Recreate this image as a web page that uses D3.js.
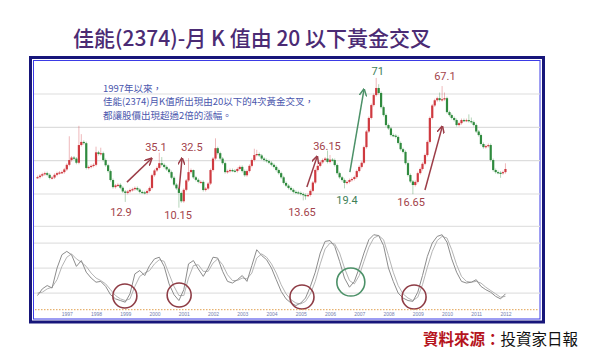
<!DOCTYPE html>
<html>
<head>
<meta charset="utf-8">
<script src="https://cdn.jsdelivr.net/npm/d3@7"></script>
<style>
  body { margin: 0; background: #fff; }
</style>
</head>
<body>
<div id="chart"></div>
<script>
// monthly closes, Jan 1996 .. Jan 2012 (one row per year)
const firstOpen = 24;
const monthlyClose = [
  24.1, 24.8, 25.5, 26, 25.2, 23.7, 23.9, 25.2, 26, 26.3, 26.5, 27.8,
  30, 32.3, 33.5, 33, 31, 39.5, 41, 40.4, 28.5, 29, 29.5, 30,
  36, 35.2, 35.6, 32.3, 29.8, 27, 22.7, 19.3, 20.1, 20.4, 19, 17.2,
  16.5, 17.2, 17.9, 18.3, 18.9, 18.1, 17, 16.8, 16.5, 17.4, 18.9, 25,
  27.3, 28.5, 30.8, 30, 29, 27.8, 26.5, 23.8, 20.5, 18.7, 16.5, 12.5,
  18, 22.5, 26.5, 27.5, 24, 22.8, 21.8, 21.8, 17.9, 18.6, 21, 27.5,
  33, 38, 35.6, 33, 30.8, 26.5, 27, 27.5, 27.2, 27, 28, 29,
  27, 25, 27, 29.5, 32.3, 34.7, 35.2, 34.5, 33, 32.3, 31.8, 31,
  30, 29, 27.5, 26, 24, 21.3, 20, 18.9, 18, 17, 16.8, 16.5,
  16, 15.5, 15.2, 15.5, 17.5, 21.5, 27.5, 29.5, 31.2, 32.3, 33, 31.4,
  32.5, 32.3, 29.9, 26, 24, 22.7, 21.3, 21.8, 22.7, 23.2, 24.1, 27,
  29, 31, 38.5, 46, 52.5, 58.7, 63.5, 66.9, 64.5, 57.7, 53.9, 49.1,
  47.5, 44.3, 44, 43.4, 40.5, 37.5, 36.2, 30.8, 25.1, 22, 20.3, 21.8,
  26, 28, 30.5, 34.7, 41, 52.5, 58.5, 61, 62, 61.1, 61.5, 62,
  55.3, 53.9, 52.5, 51.5, 49.1, 50, 51.5, 51.2, 51.5, 51, 50.5, 49.1,
  46, 44.3, 40, 38.5, 39, 39.5, 32.3, 27.5, 26.5, 26.2, 26, 26.5,
  28
];
// [month index, price] for the visible shadows
const wickHigh = [[13, 43], [17, 48], [18, 44], [24, 38], [26, 37.5], [50, 35.1], [51, 33],
  [62, 32.5], [64, 27], [73, 42], [74, 38], [89, 37], [90, 36.5], [119, 36.15], [120, 34],
  [139, 71], [140, 68], [165, 64], [166, 67.1], [167, 64], [177, 53.5], [178, 52], [192, 30]];
const wickLow = [[36, 12.9], [58, 10.15], [109, 13.65], [110, 14], [126, 19.4], [154, 16.65], [190, 24.5]];

// K and D, every second month from Jan 1996
const kValues = [17, 25, 29, 26, 50, 66, 70, 66, 52, 59, 45, 38, 33, 34, 28, 18, 13, 11, 9, 19,
  43, 47, 41, 53, 61, 63, 52, 31, 18, 11, 24, 55, 59, 49, 40, 50, 63, 62, 46, 34,
  32, 36, 41, 34, 53, 72, 65, 60, 50, 36, 22, 13, 8, 5, 8, 14, 28, 45, 68, 82,
  83, 76, 58, 38, 27, 34, 50, 68, 84, 90, 89, 77, 50, 34, 20, 14, 11, 10, 21, 41,
  64, 80, 88, 90, 81, 61, 45, 34, 32, 33, 36, 28, 24, 21, 16, 13, 19];
const dValues = [20, 21, 25, 27, 36, 52, 63, 67, 61, 57, 52, 44, 38, 35, 31, 24, 17, 13, 11, 13,
  28, 40, 44, 47, 55, 60, 58, 43, 28, 17, 17, 38, 53, 54, 46, 46, 56, 61, 54, 42,
  35, 35, 38, 37, 44, 62, 67, 63, 55, 44, 30, 19, 12, 8, 7, 10, 19, 34, 55, 73,
  80, 79, 68, 50, 35, 31, 41, 58, 75, 86, 89, 84, 65, 45, 29, 19, 14, 11, 15, 30,
  51, 70, 83, 88, 86, 72, 54, 40, 34, 33, 34, 32, 27, 23, 19, 15, 16];

const yearTicks = d3.range(1997, 2013);
const priceGrid = [16, 32, 48, 64];
const kdGrid = [20, 50, 80, 100];

// [text, month index, price]
const priceLabels = [["12.9", 34.3, 7.3], ["35.1", 48.6, 38.5], ["10.15", 57.7, 5.9], ["32.5", 63.4, 38.5],
  ["13.65", 108.5, 7.3], ["36.15", 118.8, 39], ["19.4", 127, 13.1], ["71", 139.7, 74.6],
  ["16.65", 153.3, 11.7], ["67.1", 167.2, 72.2]];
const greenLabels = ["19.4", "71"];
// [from month, from price, to month, to price]
const arrows = [[36.7, 21.7, 46.6, 32.8], [58.1, 18.4, 59.3, 32.8], [110.6, 19.3, 114.7, 33.7],
  [128.2, 26.5, 133.9, 65.9], [159, 17.9, 166, 48.1]];
const greenArrow = 3;
// [month index, KD value]
const crossCircles = [[35.9, 16.4], [58.1, 17.6], [108.5, 15.2], [128.6, 33.2], [154.5, 15.2]];
const greenCircle = 3;

const noteLines = ["1997年以來，", "佳能(2374)月K值所出現由20以下的4次黃金交叉，", "都讓股價出現超過2倍的漲幅。"];

const W = 600, H = 358;
const RED = "#cf3a40", GREEN = "#2f8a3e", MAROON = "#9c3d48", SOFTGREEN = "#4c9168";

const svg = d3.select("#chart").append("svg")
  .attr("width", W).attr("height", H)
  .style("font-family", "'Liberation Sans', Arial, sans-serif");

const monthDate = i => new Date(1996, Math.floor(i), 1 + (i % 1) * 30);
const x = d3.scaleTime().domain([new Date(1996, 0, 1), new Date(2013, 0, 1)]).range([37.5, 534.75]);
const yPrice = d3.scaleLinear().domain([0, 80]).range([227.3, 60.7]);
const yKD = d3.scaleLinear().domain([0, 100]).range([309.7, 226.4]);
const xi = i => x(monthDate(i));

// title
svg.append("text")
  .attr("x", 252).attr("y", 37)
  .attr("text-anchor", "middle").attr("dominant-baseline", "central")
  .style("font-family", "'Noto Sans CJK TC', sans-serif")
  .style("font-size", "21px").style("font-weight", 500)
  .attr("fill", "#4b2b74")
  .text("佳能(2374)-月 K 值由 20 以下黃金交叉");

// frame
svg.append("rect").attr("x", 30.5).attr("y", 57.5).attr("width", 513).attr("height", 264.5)
  .attr("fill", "#fff").attr("stroke", "#17167a").attr("stroke-width", 3);
svg.append("rect").attr("x", 33.5).attr("y", 60.5).attr("width", 506.5).attr("height", 258.5)
  .attr("fill", "none").attr("stroke", "#3b3be6").attr("stroke-width", 1);

// grids
svg.append("g").selectAll("line").data(priceGrid).join("line")
  .attr("x1", 34).attr("x2", 540)
  .attr("y1", d => yPrice(d)).attr("y2", d => yPrice(d))
  .attr("stroke", "#dddddd").attr("stroke-width", 1.2);
svg.append("g").selectAll("line").data(kdGrid).join("line")
  .attr("x1", 34).attr("x2", 540)
  .attr("y1", d => yKD(d)).attr("y2", d => yKD(d))
  .attr("stroke", "#e2e2e2").attr("stroke-width", 1.2);

// note
svg.append("g").selectAll("text").data(noteLines).join("text")
  .attr("x", 103).attr("y", (d, i) => 91.5 + i * 13.5)
  .style("font-family", "'Noto Sans CJK TC', sans-serif")
  .style("font-size", "9.5px")
  .attr("fill", "#4a56ad")
  .text(d => d);

// candles
const hiMap = new Map(wickHigh), loMap = new Map(wickLow);
const candles = monthlyClose.map((c, i) => {
  const o = i === 0 ? firstOpen : monthlyClose[i - 1];
  return {
    i, o, c, up: c >= o,
    hi: hiMap.has(i) ? hiMap.get(i) : Math.max(o, c),
    lo: loMap.has(i) ? loMap.get(i) : Math.min(o, c)
  };
});
const cg = svg.append("g");
cg.selectAll("line").data(candles).join("line")
  .attr("x1", d => xi(d.i)).attr("x2", d => xi(d.i))
  .attr("y1", d => yPrice(d.hi) - 1.5).attr("y2", d => yPrice(d.lo) + 1.5)
  .attr("stroke", d => d.up ? RED : GREEN).attr("stroke-opacity", 0.45).attr("stroke-width", 0.8);
cg.selectAll("rect").data(candles).join("rect")
  .attr("x", d => xi(d.i) - 1.1).attr("width", 2.2)
  .attr("y", d => yPrice(Math.max(d.o, d.c)))
  .attr("height", d => Math.max(1.2, Math.abs(yPrice(d.o) - yPrice(d.c))))
  .attr("fill", d => d.up ? RED : GREEN);

// arrows
const defs = svg.append("defs");
[["ahRed", MAROON], ["ahGreen", SOFTGREEN]].forEach(([id, col]) => {
  defs.append("marker").attr("id", id).attr("viewBox", "0 0 10 10")
    .attr("refX", 8).attr("refY", 5).attr("markerWidth", 5).attr("markerHeight", 5)
    .attr("orient", "auto")
    .append("path").attr("d", "M0,0L10,5L0,10").attr("fill", "none")
    .attr("stroke", col).attr("stroke-width", 2);
});
svg.append("g").selectAll("line").data(arrows).join("line")
  .attr("x1", d => xi(d[0])).attr("y1", d => yPrice(d[1]))
  .attr("x2", d => xi(d[2])).attr("y2", d => yPrice(d[3]))
  .attr("stroke", (d, i) => i === greenArrow ? SOFTGREEN : MAROON)
  .attr("stroke-width", 1.5)
  .attr("marker-end", (d, i) => i === greenArrow ? "url(#ahGreen)" : "url(#ahRed)");

// price labels
svg.append("g").selectAll("text").data(priceLabels).join("text")
  .attr("x", d => xi(d[1])).attr("y", d => yPrice(d[2]))
  .attr("text-anchor", "middle").attr("dominant-baseline", "central")
  .style("font-family", "'Liberation Sans Narrow', 'Roboto', sans-serif")
  .style("font-size", "11px")
  .attr("fill", d => greenLabels.includes(d[0]) ? "#3f7f58" : "#a3434b")
  .text(d => d[0]);

// KD lines
const kdLine = d3.line().x((d, j) => xi(j * 2)).y(d => yKD(d));
svg.append("path").datum(dValues).attr("d", kdLine)
  .attr("fill", "none").attr("stroke", "#b4b4b4").attr("stroke-width", 1);
svg.append("path").datum(kValues).attr("d", kdLine)
  .attr("fill", "none").attr("stroke", "#8c8c8c").attr("stroke-width", 1);

// circles at the crosses
svg.append("g").selectAll("circle").data(crossCircles).join("circle")
  .attr("cx", d => xi(d[0])).attr("cy", d => yKD(d[1]))
  .attr("r", (d, i) => i === greenCircle ? 14 : 12)
  .attr("fill", "none")
  .attr("stroke", (d, i) => i === greenCircle ? SOFTGREEN : "#8e3c45")
  .attr("stroke-width", 1.6);

// time axis
svg.append("line").attr("x1", 35).attr("x2", 538)
  .attr("y1", yKD(0)).attr("y2", yKD(0))
  .attr("stroke", "#e0a050").attr("stroke-width", 1).attr("stroke-dasharray", "1.5,1.5");
const axis = d3.axisBottom(x)
  .tickValues(yearTicks.map(y => new Date(y, 0, 1)))
  .tickFormat(d3.timeFormat("%Y")).tickSize(0).tickPadding(2);
const ax = svg.append("g").attr("transform", `translate(0,${yKD(0) + 0.5})`).call(axis);
ax.select(".domain").remove();
ax.selectAll("text").style("font-size", "5px").attr("fill", "#7481b0");

// source
const src = svg.append("text").attr("x", 423).attr("y", 338)
  .attr("dominant-baseline", "central")
  .style("font-family", "'Noto Sans CJK TC', sans-serif")
  .style("font-size", "15.5px");
src.append("tspan").attr("fill", "#b5141d").style("font-weight", 700).text("資料來源：");
src.append("tspan").attr("fill", "#111").text("投資家日報");
</script>
</body>
</html>
